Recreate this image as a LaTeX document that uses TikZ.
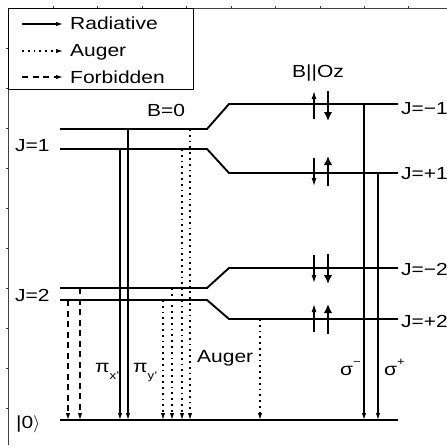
\documentclass[tikz,border=0pt]{standalone}
\usepackage{fontspec}
\setmainfont{Liberation Sans}[FakeStretch=1.2]
\usetikzlibrary{arrows.meta}
\begin{document}
\begin{tikzpicture}[x=1pt,y=-1pt,
  lvl/.style={line width=1.9pt,line join=miter},
  rad/.style={line width=1.25pt,-{Latex[length=7pt,width=4.5pt]}},
  aug/.style={rad,dash pattern=on 1.8pt off 4pt},
  forb/.style={rad,dash pattern=on 6pt off 4.5pt},
  lab/.style={font=\fontsize{17.5}{20}\selectfont,inner sep=0pt,anchor=base west},
  frm/.style={line width=1pt,draw=black!75},
  thinspin/.style={line width=1.2pt,-{Latex[length=8pt,width=5pt]}},
  thickspin/.style={line width=2.8pt,-{Latex[length=9pt,width=8.5pt]}}]
\useasboundingbox (0,0) rectangle (447,445);
% frame
\draw[frm] (8,445) -- (8,8) -- (447,8);
\foreach \t in {53,97,142,186,231,275,320,364,408} \draw[frm] (\t,8) -- (\t,5.5);
\foreach \t in {48,88,...,408} \draw[frm] (8,\t) -- (5.5,\t);
% legend
\draw[line width=1pt] (8,8) rectangle (193,89);
\coordinate (l1a) at (22,24); \coordinate (l1b) at (63,24);
\coordinate (l2a) at (22,51); \coordinate (l2b) at (63,51);
\coordinate (l3a) at (22,77); \coordinate (l3b) at (63,77);
\draw[rad] (l1a) -- (l1b);
\draw[aug] (l2a) -- (l2b);
\draw[forb] (l3a) -- (l3b);
\node[lab] (tr) at (70,29.5) {Radiative};
\node[lab] (ta) at (70,56.5) {Auger};
\node[lab] (tf) at (70,83) {Forbidden};
% levels
\draw[lvl] (60,129) -- (207,129) -- (229,104) -- (398,104);
\draw[lvl] (60,149) -- (207,149) -- (229,173) -- (398,173);
\draw[lvl] (60,288) -- (207,288) -- (229,268) -- (398,268);
\draw[lvl] (60,300) -- (207,300) -- (229,319) -- (398,319);
\draw[lvl] (60,420) -- (398,420);
% labels
\node[lab] (j1) at (15,151) {J=1};
\node[lab] (j2) at (15,301) {J=2};
\node[lab] (g0) at (16,428) {|0$\rangle$};
\node[lab] (b0) at (147,116) {B=0};
\node[lab] (boz) at (292,77) {B||Oz};
\node[lab] (jm1) at (401,114) {J=−1};
\node[lab] (jp1) at (401,179) {J=+1};
\node[lab] (jm2) at (401,275) {J=−2};
\node[lab] (jp2) at (401,327) {J=+2};
\node[lab] (aug) at (197,362) {Auger};
\node[lab] (pix) at (95,372) {π\raisebox{-0.4em}{\fontsize{11}{11}\selectfont x'}};
\node[lab] (piy) at (133,372) {π\raisebox{-0.4em}{\fontsize{11}{11}\selectfont y'}};
\node[lab] (sm) at (340,375) {σ\raisebox{0.55em}{\fontsize{11}{11}\selectfont −}};
\node[lab] (sp) at (384,375) {σ\raisebox{0.55em}{\fontsize{11}{11}\selectfont +}};
% transition coordinates
\coordinate (p1s) at (128,129); \coordinate (p1e) at (128,420);
\coordinate (p2s) at (120,149); \coordinate (p2e) at (120,420);
\coordinate (f1s) at (68,300);  \coordinate (f1e) at (68,420);
\coordinate (f2s) at (80,288);  \coordinate (f2e) at (80,420);
\coordinate (a1s) at (163,300); \coordinate (a1e) at (163,420);
\coordinate (a2s) at (172,288); \coordinate (a2e) at (172,420);
\coordinate (a3s) at (182,149); \coordinate (a3e) at (182,420);
\coordinate (a4s) at (190,129); \coordinate (a4e) at (190,420);
\coordinate (a5s) at (260,319); \coordinate (a5e) at (260,420);
\coordinate (sms) at (364,104); \coordinate (sme) at (364,420);
\coordinate (sps) at (378,173); \coordinate (spe) at (378,420);
\draw[rad] (p1s) -- (p1e);
\draw[rad] (p2s) -- (p2e);
\draw[forb] (f1s) -- (f1e);
\draw[forb] (f2s) -- (f2e);
\foreach \a in {a1,a2,a3,a4,a5} \draw[aug] (\a s) -- (\a e);
\draw[rad] (sms) -- (sme);
\draw[rad] (sps) -- (spe);
% spins
\coordinate (s1a) at (314,119); \coordinate (s1b) at (314,91);
\coordinate (s2a) at (328,91);  \coordinate (s2b) at (328,121);
\coordinate (s3a) at (314,158); \coordinate (s3b) at (314,186);
\coordinate (s4a) at (328,186); \coordinate (s4b) at (328,156);
\coordinate (s5a) at (314,255); \coordinate (s5b) at (314,283);
\coordinate (s6a) at (328,254); \coordinate (s6b) at (328,284);
\coordinate (s7a) at (314,332); \coordinate (s7b) at (314,304);
\coordinate (s8a) at (328,334); \coordinate (s8b) at (328,304);
\draw[thinspin] (s1a) -- (s1b);
\draw[thickspin] (s2a) -- (s2b);
\draw[thinspin] (s3a) -- (s3b);
\draw[thickspin] (s4a) -- (s4b);
\draw[thinspin] (s5a) -- (s5b);
\draw[thickspin] (s6a) -- (s6b);
\draw[thinspin] (s7a) -- (s7b);
\draw[thickspin] (s8a) -- (s8b);
\end{tikzpicture}
\end{document}
